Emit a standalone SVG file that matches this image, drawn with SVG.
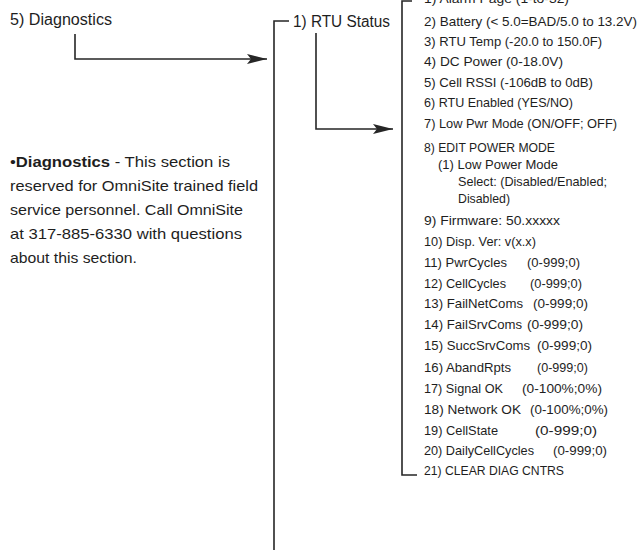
<svg xmlns="http://www.w3.org/2000/svg" width="642" height="550" viewBox="0 0 642 550">
<defs>
<style>
text{font-family:"Liberation Sans Narrow","Liberation Sans",Arial,sans-serif;fill:#1e1e1e;}
.h{font-size:16px;}
.l{font-size:13px;}
.p{font-size:14.5px;}
.b{font-weight:bold;}
.ln{fill:none;stroke:#262626;stroke-width:1.6;}
</style>
<marker id="ah" viewBox="0 0 20 10" refX="20" refY="5" markerWidth="20" markerHeight="10" orient="auto" markerUnits="userSpaceOnUse">
<path d="M0,0 L20,5 L0,10 L4,5 z" fill="#262626"/>
</marker>
</defs>
<rect width="642" height="550" fill="#ffffff"/>

<g id="connectors">
<path class="ln" d="M75,34 V59 H267" marker-end="url(#ah)"/>
<path class="ln" d="M289,21 H274 V550"/>
<path class="ln" d="M316,33 V129 H393" marker-end="url(#ah)"/>
<path class="ln" d="M412,1 H402 V475 H417"/>
</g>

<g id="node-diagnostics">
<text class="h" x="10" y="25" textLength="102" lengthAdjust="spacingAndGlyphs">5) Diagnostics</text>
</g>

<g id="node-rtu-status">
<text class="h" x="293" y="27" textLength="97" lengthAdjust="spacingAndGlyphs">1) RTU Status</text>
</g>

<g id="node-description">
<text class="p" x="10" y="167" textLength="220" lengthAdjust="spacingAndGlyphs">•<tspan class="b">Diagnostics</tspan> - This section is</text>
<text class="p" x="10" y="191" textLength="248" lengthAdjust="spacingAndGlyphs">reserved for OmniSite trained field</text>
<text class="p" x="10" y="215" textLength="233" lengthAdjust="spacingAndGlyphs">service personnel. Call OmniSite</text>
<text class="p" x="10" y="239" textLength="232" lengthAdjust="spacingAndGlyphs">at 317-885-6330 with questions</text>
<text class="p" x="10" y="263" textLength="127" lengthAdjust="spacingAndGlyphs">about this section.</text>
</g>

<g id="node-rtu-list">
<text class="l" x="424" y="3" textLength="145" lengthAdjust="spacingAndGlyphs">1) Alarm Page (1-to-32)</text>
<text class="l" x="424" y="26" textLength="213" lengthAdjust="spacingAndGlyphs">2) Battery (&lt; 5.0=BAD/5.0 to 13.2V)</text>
<text class="l" x="424" y="46" textLength="178" lengthAdjust="spacingAndGlyphs">3) RTU Temp (-20.0 to 150.0F)</text>
<text class="l" x="424" y="66" textLength="139" lengthAdjust="spacingAndGlyphs">4) DC Power (0-18.0V)</text>
<text class="l" x="424" y="87" textLength="169" lengthAdjust="spacingAndGlyphs">5) Cell RSSI (-106dB to 0dB)</text>
<text class="l" x="424" y="107" textLength="149" lengthAdjust="spacingAndGlyphs">6) RTU Enabled (YES/NO)</text>
<text class="l" x="424" y="128" textLength="193" lengthAdjust="spacingAndGlyphs">7) Low Pwr Mode (ON/OFF; OFF)</text>
<text class="l" x="424" y="152" textLength="131" lengthAdjust="spacingAndGlyphs">8) EDIT POWER MODE</text>
<text class="l" x="438" y="169" textLength="120" lengthAdjust="spacingAndGlyphs">(1) Low Power Mode</text>
<text class="l" x="458" y="186" textLength="149" lengthAdjust="spacingAndGlyphs">Select: (Disabled/Enabled;</text>
<text class="l" x="458" y="203" textLength="52" lengthAdjust="spacingAndGlyphs">Disabled)</text>
<text class="l" x="424" y="225" textLength="136" lengthAdjust="spacingAndGlyphs">9) Firmware: 50.xxxxx</text>
<text class="l" x="424" y="246" textLength="112" lengthAdjust="spacingAndGlyphs">10) Disp. Ver: v(x.x)</text>
<text class="l" x="424" y="267" textLength="83" lengthAdjust="spacingAndGlyphs">11) PwrCycles</text>
<text class="l" x="527" y="267" textLength="53" lengthAdjust="spacingAndGlyphs">(0-999;0)</text>
<text class="l" x="424" y="288" textLength="82" lengthAdjust="spacingAndGlyphs">12) CellCycles</text>
<text class="l" x="530" y="288" textLength="52" lengthAdjust="spacingAndGlyphs">(0-999;0)</text>
<text class="l" x="424" y="308" textLength="99" lengthAdjust="spacingAndGlyphs">13) FailNetComs</text>
<text class="l" x="533" y="308" textLength="55" lengthAdjust="spacingAndGlyphs">(0-999;0)</text>
<text class="l" x="424" y="329" textLength="98" lengthAdjust="spacingAndGlyphs">14) FailSrvComs</text>
<text class="l" x="527" y="329" textLength="56" lengthAdjust="spacingAndGlyphs">(0-999;0)</text>
<text class="l" x="424" y="350" textLength="106" lengthAdjust="spacingAndGlyphs">15) SuccSrvComs</text>
<text class="l" x="537" y="350" textLength="55" lengthAdjust="spacingAndGlyphs">(0-999;0)</text>
<text class="l" x="424" y="372" textLength="87" lengthAdjust="spacingAndGlyphs">16) AbandRpts</text>
<text class="l" x="537" y="372" textLength="51" lengthAdjust="spacingAndGlyphs">(0-999;0)</text>
<text class="l" x="424" y="393" textLength="79" lengthAdjust="spacingAndGlyphs">17) Signal OK</text>
<text class="l" x="522" y="393" textLength="80" lengthAdjust="spacingAndGlyphs">(0-100%;0%)</text>
<text class="l" x="424" y="414" textLength="97" lengthAdjust="spacingAndGlyphs">18) Network OK</text>
<text class="l" x="530" y="414" textLength="78" lengthAdjust="spacingAndGlyphs">(0-100%;0%)</text>
<text class="l" x="424" y="435" textLength="74" lengthAdjust="spacingAndGlyphs">19) CellState</text>
<text class="l" x="535" y="435" textLength="62" lengthAdjust="spacingAndGlyphs">(0-999;0)</text>
<text class="l" x="424" y="455" textLength="110" lengthAdjust="spacingAndGlyphs">20) DailyCellCycles</text>
<text class="l" x="553" y="455" textLength="54" lengthAdjust="spacingAndGlyphs">(0-999;0)</text>
<text class="l" x="424" y="475" textLength="140" lengthAdjust="spacingAndGlyphs">21) CLEAR DIAG CNTRS</text>
</g>
</svg>
